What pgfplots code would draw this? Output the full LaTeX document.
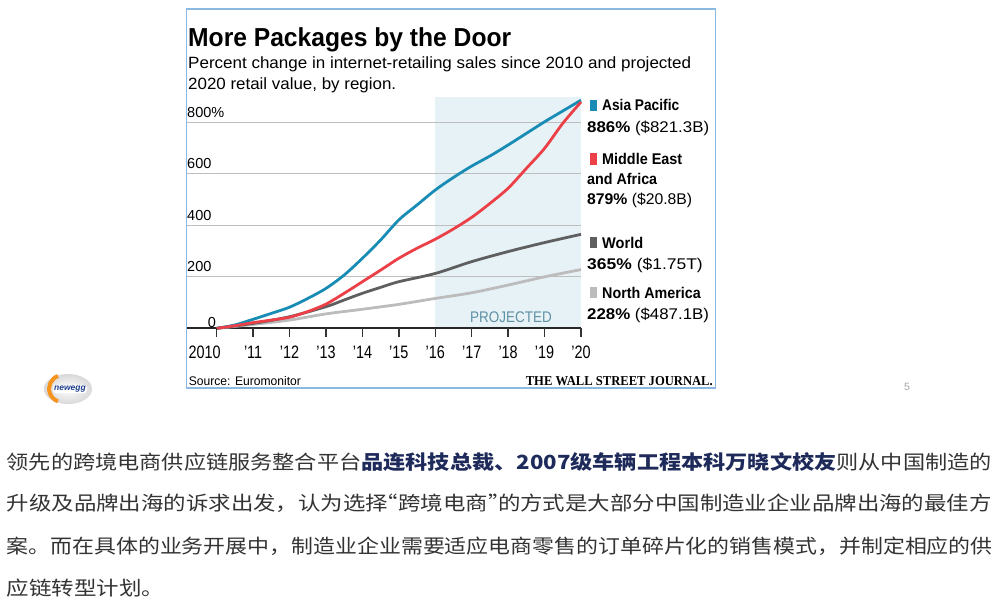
\documentclass[border=0pt]{standalone}
\usepackage{pgfplots}
\pgfplotsset{compat=1.18}
\usepackage{pgfplotstable}
\usepackage{graphicx}
\usepackage{fontspec}
\setmainfont{Liberation Sans}
\newfontfamily\cjk{Noto Sans CJK SC}
\newfontfamily\wsj{Liberation Serif}
\definecolor{apblue}{RGB}{24,140,180}
\definecolor{mered}{RGB}{235,64,72}
\definecolor{worldc}{RGB}{95,95,95}
\definecolor{namer}{RGB}{188,188,188}
\definecolor{shadec}{RGB}{231,242,246}
\definecolor{framec}{RGB}{140,185,225}
\definecolor{projc}{RGB}{95,145,165}
\definecolor{navy}{RGB}{30,42,90}
\definecolor{bodyc}{RGB}{51,51,51}
\definecolor{gridc}{RGB}{190,190,190}
\definecolor{neworange}{RGB}{247,148,29}
\definecolor{newblue}{RGB}{29,63,143}
\newcommand\fitw[2]{\resizebox{#1}{\height}{#2}}
\newcommand\tl[1]{\scalebox{0.8}[1]{#1}}

\pgfplotstableread{
x y
2010 0
2010.5 13
2011 35
2011.5 58
2012 82
2012.5 116
2013 155
2013.5 207
2014 272
2014.5 343
2015 421
2015.5 479
2016 537
2016.5 586
2017 630
2017.5 669
2018 712
2018.5 757
2019 802
2019.5 844
2020 886
}\asiapac
\pgfplotstableread{
x y
2010 0
2010.5 10
2011 22
2011.5 32
2012 43
2012.5 65
2013 94
2013.5 136
2014 181
2014.5 226
2015 272
2015.5 311
2016 346
2016.5 386
2017 431
2017.5 485
2018 544
2018.5 621
2019 699
2019.5 796
2020 879
}\meafrica
\pgfplotstableread{
x y
2010 0
2011 19
2012 45
2013 84
2013.5 110
2014 136
2014.5 159
2015 181
2016 213
2017 259
2018 298
2019 333
2020 365
}\world
\pgfplotstableread{
x y
2010 0
2011 15
2012 32
2013 56
2014 74
2015 93
2016 116
2017 138
2018 168
2019 200
2020 228
}\northam

\begin{document}
\begin{tikzpicture}
\path (0pt,0pt) rectangle (1004pt,-614pt);

% chart frame
\draw[framec, line width=1.6pt] (186.5pt,-9pt) rectangle (715.5pt,-388pt);

\begin{axis}[
  at={(187pt,-328.3pt)}, anchor=south west,
  scale only axis, width=394pt, height=231.75pt,
  xmin=2009.185, xmax=2020, ymin=0, ymax=900,
  set layers, clip=false,
  axis x line*=bottom, axis y line*=left,
  y axis line style={draw=none},
  x axis line style={line width=2pt, color=black!85},
  xtick={2010,2011,...,2020}, xtick align=outside,
  major tick length=0pt,
  xticklabels={\tl{2010}\hspace*{24pt},\tl{'11},\tl{'12},\tl{'13},\tl{'14},\tl{'15},\tl{'16},\tl{'17},\tl{'18},\tl{'19},\tl{'20}},
  xticklabel style={font=\fontsize{18}{18}\selectfont, anchor=north, inner sep=0pt, yshift=-17.3pt},
  ytick={0,200,400,600,800}, ytick style={draw=none},
  ymajorgrids, grid style={gridc, line width=1pt},
  yticklabels={\hspace*{20.7pt}\raisebox{-3.7pt}{0},200,400,600,800\%},
  yticklabel style={font=\fontsize{14.5}{14.5}\selectfont, anchor=base west, inner sep=0pt, yshift=5pt},
]
\addplot[draw=none, fill=shadec, on layer=axis background] coordinates {(2016,0) (2016,900) (2020,900) (2020,0)};
\addplot[namer, line width=2.8pt, smooth, tension=0.5] table {\northam};
\addplot[worldc, line width=2.8pt, smooth, tension=0.5] table {\world};
\addplot[apblue, line width=2.8pt, smooth, tension=0.5] table {\asiapac};
\addplot[mered, line width=2.8pt, smooth, tension=0.5] table {\meafrica};
\pgfplotsinvokeforeach{2010,2011,2012,2013,2014,2015,2016,2017,2018,2019,2020}{
  \draw[black!80, line width=1.4pt] (axis cs:#1,0) -- ([yshift=-9pt]axis cs:#1,0);
}
\end{axis}

% titles
\node[anchor=base west, inner sep=0pt] at (188pt,-46.7pt) {\fitw{323pt}{\fontsize{26}{26}\selectfont\bfseries More Packages by the Door}};
\node[anchor=base west, inner sep=0pt] at (188pt,-68.3pt) {\fitw{503pt}{\fontsize{16.3}{16.3}\selectfont Percent change in internet-retailing sales since 2010 and projected}};
\node[anchor=base west, inner sep=0pt] at (188pt,-89.3pt) {\fitw{208pt}{\fontsize{16.3}{16.3}\selectfont 2020 retail value, by region.}};

% legend
\fill[apblue] (589.5pt,-99.5pt) rectangle (596.5pt,-111pt);
\fill[mered] (589.5pt,-153.3pt) rectangle (596.5pt,-164.5pt);
\fill[worldc] (589.5pt,-236.7pt) rectangle (596.5pt,-248.3pt);
\fill[namer] (589.5pt,-286.7pt) rectangle (596.5pt,-298.3pt);
\begin{scope}[every node/.style={anchor=base west, inner sep=0pt, font=\fontsize{15.5}{15.5}\selectfont}]
\node at (602pt,-110.7pt) {\fitw{77pt}{\bfseries Asia Pacific}};
\node at (587pt,-132.5pt) {\fitw{122pt}{\textbf{886\%} (\$821.3B)}};
\node at (602pt,-164pt) {\fitw{80pt}{\bfseries Middle East}};
\node at (587pt,-184pt) {\fitw{70pt}{\bfseries and Africa}};
\node at (587pt,-204.3pt) {\fitw{105pt}{\textbf{879\%} (\$20.8B)}};
\node at (602pt,-248.3pt) {\fitw{41pt}{\bfseries World}};
\node at (587pt,-269.5pt) {\fitw{115.6pt}{\textbf{365\%} (\$1.75T)}};
\node at (602pt,-298.3pt) {\fitw{98.6pt}{\bfseries North America}};
\node at (587pt,-319.5pt) {\fitw{121.8pt}{\textbf{228\%} (\$487.1B)}};
\end{scope}

\node[anchor=base west, inner sep=0pt, text=projc] at (470pt,-322.7pt) {\fitw{81.7pt}{\fontsize{15.4}{15.4}\selectfont PROJECTED}};

\node[anchor=base west, inner sep=0pt] at (188.7pt,-385pt) {\fitw{112pt}{\fontsize{12.5}{12.5}\selectfont Source: Euromonitor}};
\node[anchor=base east, inner sep=0pt] at (713pt,-385pt) {\fitw{187pt}{\wsj\bfseries\fontsize{13.6}{13.6}\selectfont THE WALL STREET JOURNAL.}};

% newegg logo
\shade[inner color=white, outer color=gray!30] (68pt,-389pt) ellipse (24pt and 15pt);
\draw[neworange, line width=4pt] (58pt,-376pt) arc (110:250:13.5pt and 13.5pt);
\node[fill=white, rounded corners=3pt, inner sep=1pt, text=newblue, font=\bfseries\itshape\fontsize{8.5}{8.5}\selectfont] at (70pt,-389pt) {newegg};

% page number
\node[anchor=base west, inner sep=0pt, text=gray!70, font=\fontsize{10.5}{10.5}\selectfont] at (904pt,-390.7pt) {5};

% Chinese paragraph
\begin{scope}[every node/.style={anchor=base west, inner sep=0pt}]
\node at (6.5pt,-469pt) {\fitw{985pt}{\cjk\fontsize{19.5}{19.5}\selectfont{\color{bodyc}领先的跨境电商供应链服务整合平台}{\color{navy}\bfseries 品连科技总裁、2007级车辆工程本科万晓文校友}{\color{bodyc}则从中国制造的}}};
\node at (6.5pt,-510.5pt) {\fitw{985pt}{\cjk\fontsize{19.5}{19.5}\selectfont\color{bodyc}升级及品牌出海的诉求出发，认为选择\makebox[0.45em][r]{“}跨境电商\makebox[0.45em][l]{”}的方式是大部分中国制造业企业品牌出海的最佳方}};
\node at (6.5pt,-553pt) {\fitw{986pt}{\cjk\fontsize{19.5}{19.5}\selectfont\color{bodyc}案。而在具体的业务开展中，制造业企业需要适应电商零售的订单碎片化的销售模式，并制定相应的供}};
\node at (6.5pt,-595pt) {\fitw{157.5pt}{\cjk\fontsize{19.5}{19.5}\selectfont\color{bodyc}应链转型计划。}};
\end{scope}
\end{tikzpicture}
\end{document}
